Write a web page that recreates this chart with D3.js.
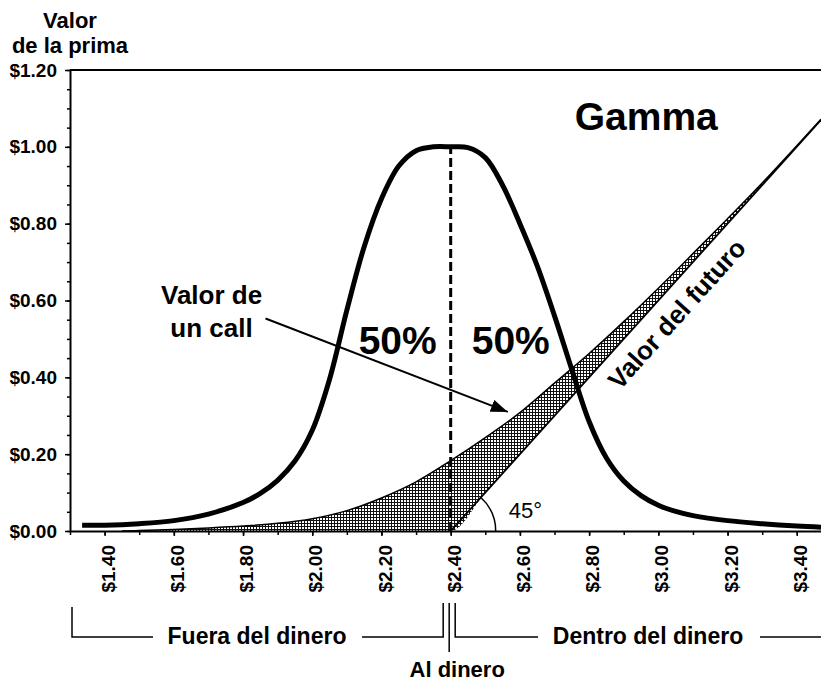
<!DOCTYPE html>
<html>
<head>
<meta charset="utf-8">
<script src="https://cdn.jsdelivr.net/npm/d3@7"></script>
<style>
    body { margin: 0; background: #fff; }
    svg { display: block; font-family: "Liberation Sans", Arial, sans-serif; }
</style>
</head>
<body>
<div class="d3-canvas"></div>
<script>
const WIDTH = 821;
const HEIGHT = 684;

const margin = {top: 70, right: 0, bottom: 153, left: 70};
const chartWidth = WIDTH - margin.left - margin.right;
const chartHeight = HEIGHT - margin.top - margin.bottom;

// Gamma curve (price of the future -> gamma, on the same scale).
const gammaPrices = [1.335, 1.40, 1.50, 1.60, 1.70, 1.80, 1.85, 1.90, 1.95, 2.00, 2.05, 2.10, 2.15, 2.20,
    2.25, 2.30, 2.35, 2.40, 2.45, 2.50, 2.55, 2.60, 2.65, 2.70, 2.75, 2.80, 2.85, 2.90, 2.95, 3.00, 3.05,
    3.10, 3.20, 3.30, 3.40, 3.47];
const gammaValues = [0.015, 0.015, 0.019, 0.027, 0.044, 0.074, 0.098, 0.132, 0.182, 0.262, 0.395, 0.575,
    0.740, 0.865, 0.950, 0.990, 1.000, 1.000, 0.998, 0.972, 0.900, 0.800, 0.690, 0.560, 0.420, 0.285,
    0.190, 0.130, 0.092, 0.067, 0.051, 0.040, 0.027, 0.019, 0.013, 0.010];

// Call premium and the value of the future under it (the intrinsic value).
const callPrices = [1.45, 1.50, 1.60, 1.70, 1.80, 1.90, 2.00, 2.10, 2.20, 2.30, 2.40, 2.50, 2.60, 2.70,
    2.80, 2.90, 3.00, 3.10, 3.20, 3.30, 3.40, 3.47];
const callValues = [0.000, 0.001, 0.004, 0.008, 0.013, 0.020, 0.032, 0.053, 0.086, 0.128, 0.183, 0.243,
    0.308, 0.385, 0.462, 0.545, 0.632, 0.722, 0.813, 0.906, 1.003, 1.072];
const callFloor = [0, 0, 0, 0, 0, 0, 0, 0, 0, 0, 0, 0.10, 0.20, 0.30, 0.40, 0.50, 0.60, 0.70, 0.80, 0.90,
    1.00, 1.07];

// Value of the future.
const futurePrices = [2.40, 3.47];
const futureValues = [0.00, 1.07];

const strike = 2.40;

// Tick labels.
const xTickValues = [1.40, 1.60, 1.80, 2.00, 2.20, 2.40, 2.60, 2.80, 3.00, 3.20, 3.40];
const yTickValues = [0.00, 0.20, 0.40, 0.60, 0.80, 1.00, 1.20];

const gammaData = gammaPrices.map((p, i) => ({price: p, value: gammaValues[i]}));
const callData = callPrices.map((p, i) => ({price: p, value: callValues[i], floor: callFloor[i]}));
const futureData = futurePrices.map((p, i) => ({price: p, value: futureValues[i]}));

const svg = d3.select('.d3-canvas')
    .append('svg')
        .attr('width', WIDTH)
        .attr('height', HEIGHT);

// Cross hatch used for the time value of the call.
const defs = svg.append('defs');
const hatch = defs.append('pattern')
    .attr('id', 'hatch')
    .attr('patternUnits', 'userSpaceOnUse')
    .attr('width', 3)
    .attr('height', 3);
hatch.append('rect').attr('width', 3).attr('height', 3).attr('fill', '#fff');
hatch.append('path')
    .attr('d', 'M0,0.5H3M0.5,0V3')
    .attr('stroke', '#111')
    .attr('stroke-width', 1);

defs.append('marker')
    .attr('id', 'arrow')
    .attr('markerUnits', 'userSpaceOnUse')
    .attr('viewBox', '0 0 16 12')
    .attr('refX', 16)
    .attr('refY', 6)
    .attr('markerWidth', 17)
    .attr('markerHeight', 13)
    .attr('orient', 'auto')
  .append('path')
    .attr('d', 'M0,0L16,6L0,12Z')
    .attr('fill', '#000');

const chart = svg.append('g')
    .attr('transform', `translate(${margin.left}, ${margin.top})`);

// Scales.
const x = d3.scaleLinear()
    .domain([1.30, 3.47])
    .range([0, chartWidth]);
const y = d3.scaleLinear()
    .domain([0, 1.2])
    .range([chartHeight, 0]);

// Time value band between the call and the future.
const band = d3.area()
    .x(d => x(d.price))
    .y0(d => y(d.floor))
    .y1(d => y(d.value))
    .curve(d3.curveMonotoneX);

chart.append('path')
    .datum(callData)
    .attr('d', band)
    .attr('fill', 'url(#hatch)');

chart.append('path')
    .datum(callData)
    .attr('d', d3.line().x(d => x(d.price)).y(d => y(d.value)).curve(d3.curveMonotoneX))
    .attr('fill', 'none')
    .attr('stroke', '#000')
    .attr('stroke-width', 1.5);

chart.append('path')
    .datum(futureData)
    .attr('d', d3.line().x(d => x(d.price)).y(d => y(d.value)))
    .attr('fill', 'none')
    .attr('stroke', '#000')
    .attr('stroke-width', 1.8);

// At the money line.
chart.append('line')
    .attr('x1', x(strike))
    .attr('x2', x(strike))
    .attr('y1', y(0))
    .attr('y2', y(1.0) - 2)
    .attr('stroke', '#000')
    .attr('stroke-width', 3)
    .attr('stroke-dasharray', '9,4');

// Gamma.
chart.append('path')
    .datum(gammaData)
    .attr('d', d3.line().x(d => x(d.price)).y(d => y(d.value)).curve(d3.curveCatmullRom.alpha(0.5)))
    .attr('fill', 'none')
    .attr('stroke', '#000')
    .attr('stroke-width', 5);

// Axes.
const xAxisGroup = chart.append('g')
    .attr('transform', `translate(0, ${chartHeight})`);
const xMinorGroup = chart.append('g')
    .attr('transform', `translate(0, ${chartHeight})`);
const yAxisGroup = chart.append('g');
const yMinorGroup = chart.append('g');

const xAxis = d3.axisBottom(x)
    .tickValues(xTickValues)
    .tickFormat(d3.format('$.2f'))
    .tickSize(5)
    .tickSizeOuter(0);
const yAxis = d3.axisLeft(y)
    .tickValues(yTickValues)
    .tickFormat(d3.format('$.2f'))
    .tickSize(5)
    .tickSizeOuter(0)
    .tickPadding(8);

xAxisGroup.call(xAxis);
yAxisGroup.call(yAxis);
xMinorGroup.call(d3.axisBottom(x).ticks(20).tickSize(4).tickFormat(''));
yMinorGroup.call(d3.axisLeft(y).ticks(24).tickSize(3).tickFormat(''));
xMinorGroup.select('.domain').remove();
yMinorGroup.select('.domain').remove();

chart.selectAll('.domain').attr('stroke-width', 2);
chart.selectAll('.tick line').attr('stroke-width', 1.5);

yAxisGroup.selectAll('text')
    .attr('font-size', 19)
    .attr('font-weight', 'bold')
    .attr('font-family', '"Liberation Sans", Arial, sans-serif')
    .attr('fill', '#000');

xAxisGroup.selectAll('text')
    .attr('font-size', 19)
    .attr('font-weight', 'bold')
    .attr('font-family', '"Liberation Sans", Arial, sans-serif')
    .attr('fill', '#000')
    .attr('text-anchor', 'end')
    .attr('transform', 'translate(3, 14) rotate(-90)')
    .attr('x', 0)
    .attr('y', 0)
    .attr('dy', '0.35em');

// Top frame line.
chart.append('line')
    .attr('x1', 0)
    .attr('x2', chartWidth)
    .attr('y1', 0)
    .attr('y2', 0)
    .attr('stroke', '#000')
    .attr('stroke-width', 2);

// 45 degree mark.
const angle = Math.atan2(y(0) - y(1), x(1) - x(0));
chart.append('path')
    .attr('transform', `translate(${x(strike)}, ${y(0)})`)
    .attr('d', d3.arc().innerRadius(45).outerRadius(45).startAngle(Math.PI / 2 - angle).endAngle(Math.PI / 2))
    .attr('fill', 'none')
    .attr('stroke', '#000')
    .attr('stroke-width', 1.5);
chart.append('text')
    .attr('x', x(2.568))
    .attr('y', y(0.034))
    .attr('font-size', 22)
    .text('45°');

// Labels inside the chart.
const bold = sel => sel.attr('font-weight', 'bold').attr('fill', '#000');

chart.append('text').call(bold)
    .attr('x', x(2.965))
    .attr('y', y(1.045))
    .attr('text-anchor', 'middle')
    .attr('font-size', 39)
    .text('Gamma');

chart.append('text').call(bold)
    .attr('x', x(strike) - 14)
    .attr('y', y(0.46))
    .attr('text-anchor', 'end')
    .attr('font-size', 39)
    .text('50%');
chart.append('text').call(bold)
    .attr('x', x(strike) + 21)
    .attr('y', y(0.46))
    .attr('font-size', 39)
    .text('50%');

const callLabel = chart.append('text').call(bold)
    .attr('text-anchor', 'middle')
    .attr('font-size', 26);
callLabel.append('tspan').attr('x', x(1.709)).attr('y', y(0.590)).text('Valor de');
callLabel.append('tspan').attr('x', x(1.709)).attr('y', y(0.506)).text('un call');

chart.append('line')
    .attr('x1', x(1.865))
    .attr('y1', y(0.553))
    .attr('x2', x(2.565))
    .attr('y2', y(0.310))
    .attr('stroke', '#000')
    .attr('stroke-width', 2)
    .attr('marker-end', 'url(#arrow)');

chart.append('text').call(bold)
    .attr('transform', `translate(${x(3.053)}, ${y(0.565)}) rotate(${-angle * 180 / Math.PI})`)
    .attr('text-anchor', 'middle')
    .attr('dy', '0.35em')
    .attr('font-size', 26)
    .text('Valor del futuro');

// Axis title.
const yTitle = svg.append('text').call(bold)
    .attr('text-anchor', 'middle')
    .attr('font-size', 22);
yTitle.append('tspan').attr('x', margin.left).attr('y', 28).text('Valor');
yTitle.append('tspan').attr('x', margin.left).attr('y', 53).text('de la prima');

// Money brackets under the axis.
const xc = margin.left + x(strike) - 1.5;
const by = margin.top + chartHeight + 106;
const bracket = svg.append('g')
    .attr('fill', 'none')
    .attr('stroke', '#000')
    .attr('stroke-width', 1.5);
bracket.append('path').attr('d', `M${margin.left + 2},${by - 30}V${by}H153`);
bracket.append('path').attr('d', `M362,${by}H${xc - 6}V${by - 34}`);
bracket.append('path').attr('d', `M${xc},${by - 34}V${by + 15}`);
bracket.append('path').attr('d', `M${xc + 6},${by - 34}V${by}H538`);
bracket.append('path').attr('d', `M760,${by}H${WIDTH}`);

svg.append('text').call(bold)
    .attr('x', 257)
    .attr('y', by + 7)
    .attr('text-anchor', 'middle')
    .attr('font-size', 23)
    .text('Fuera del dinero');
svg.append('text').call(bold)
    .attr('x', 648)
    .attr('y', by + 7)
    .attr('text-anchor', 'middle')
    .attr('font-size', 23)
    .text('Dentro del dinero');
svg.append('text').call(bold)
    .attr('x', xc + 8)
    .attr('y', by + 40)
    .attr('text-anchor', 'middle')
    .attr('font-size', 22)
    .text('Al dinero');
</script>
</body>
</html>
